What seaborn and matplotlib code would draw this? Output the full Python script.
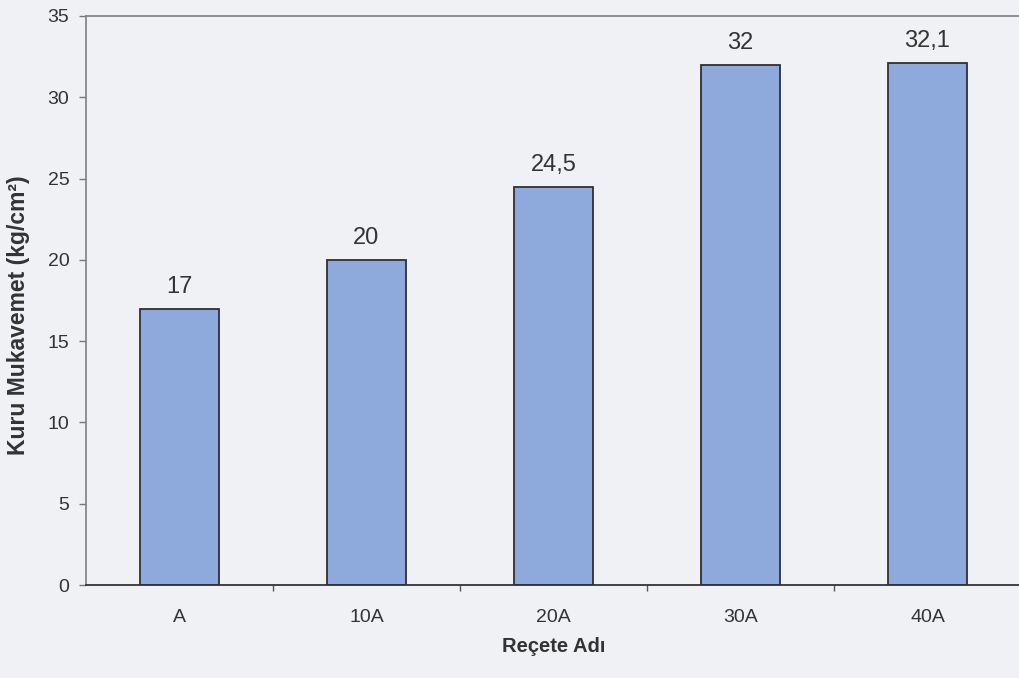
import matplotlib
matplotlib.use("Agg")
import matplotlib.pyplot as plt
import seaborn as sns
import pandas as pd
import numpy as np

categories = ["A", "10A", "20A", "30A", "40A"]
values = [17, 20, 24.5, 32, 32.1]
value_labels = ["17", "20", "24,5", "32", "32,1"]
y_ticks = [0, 5, 10, 15, 20, 25, 30, 35]

sns.set_theme(style="white")
plt.rcParams["font.family"] = ["Liberation Sans", "DejaVu Sans"]

bg = "#eff1f5"
fig = plt.figure(figsize=(10.19, 6.78), dpi=100, facecolor=bg)
ax = fig.add_axes([86/1019, 1-585/678, 935/1019, (585-16)/678])
ax.set_facecolor(bg)

df = pd.DataFrame({"cat": categories, "val": values})
sns.barplot(data=df, x="cat", y="val", ax=ax, color="#8eaadc", saturation=1,
            width=0.42, edgecolor="#2f3035", linewidth=1.3)

ax.set_xlim(-0.5, len(categories) - 0.5)
ax.set_ylim(0, 35)
ax.set_yticks(y_ticks)
ax.set_yticklabels([str(t) for t in y_ticks], fontsize=14, color="#333333")
ax.set_xticks(range(len(categories)))
ax.set_xticklabels(categories, fontsize=14, color="#333333")
ax.set_xticks(np.arange(0.5, len(categories) - 0.5, 1), minor=True)
ax.tick_params(axis="x", which="major", length=0, pad=17)
ax.tick_params(axis="x", which="minor", length=4, width=1, color="#555555", direction="out", bottom=True)
ax.tick_params(axis="y", length=5, width=1, color="#777777", direction="out", left=True, pad=7)

for s in ["left", "top"]:
    ax.spines[s].set_color("#808080")
    ax.spines[s].set_linewidth(1.2)
ax.spines["bottom"].set_color("#333333")
ax.spines["bottom"].set_linewidth(1.3)
ax.spines["right"].set_visible(False)

for i, (v, lab) in enumerate(zip(values, value_labels)):
    ax.annotate(lab, (i, v), xytext=(0, 8), textcoords="offset points",
                ha="center", va="bottom", fontsize=17, color="#333333")

ax.set_xlabel("Reçete Adı", fontsize=14.5, fontweight="bold", color="#333333", labelpad=8)
ax.set_ylabel("Kuru Mukavemet (kg/cm²)", fontsize=16.5, fontweight="bold", color="#333333")
ax.yaxis.set_label_coords(-0.060, 0.475)

fig.savefig("out.png", dpi=100, facecolor=bg)
